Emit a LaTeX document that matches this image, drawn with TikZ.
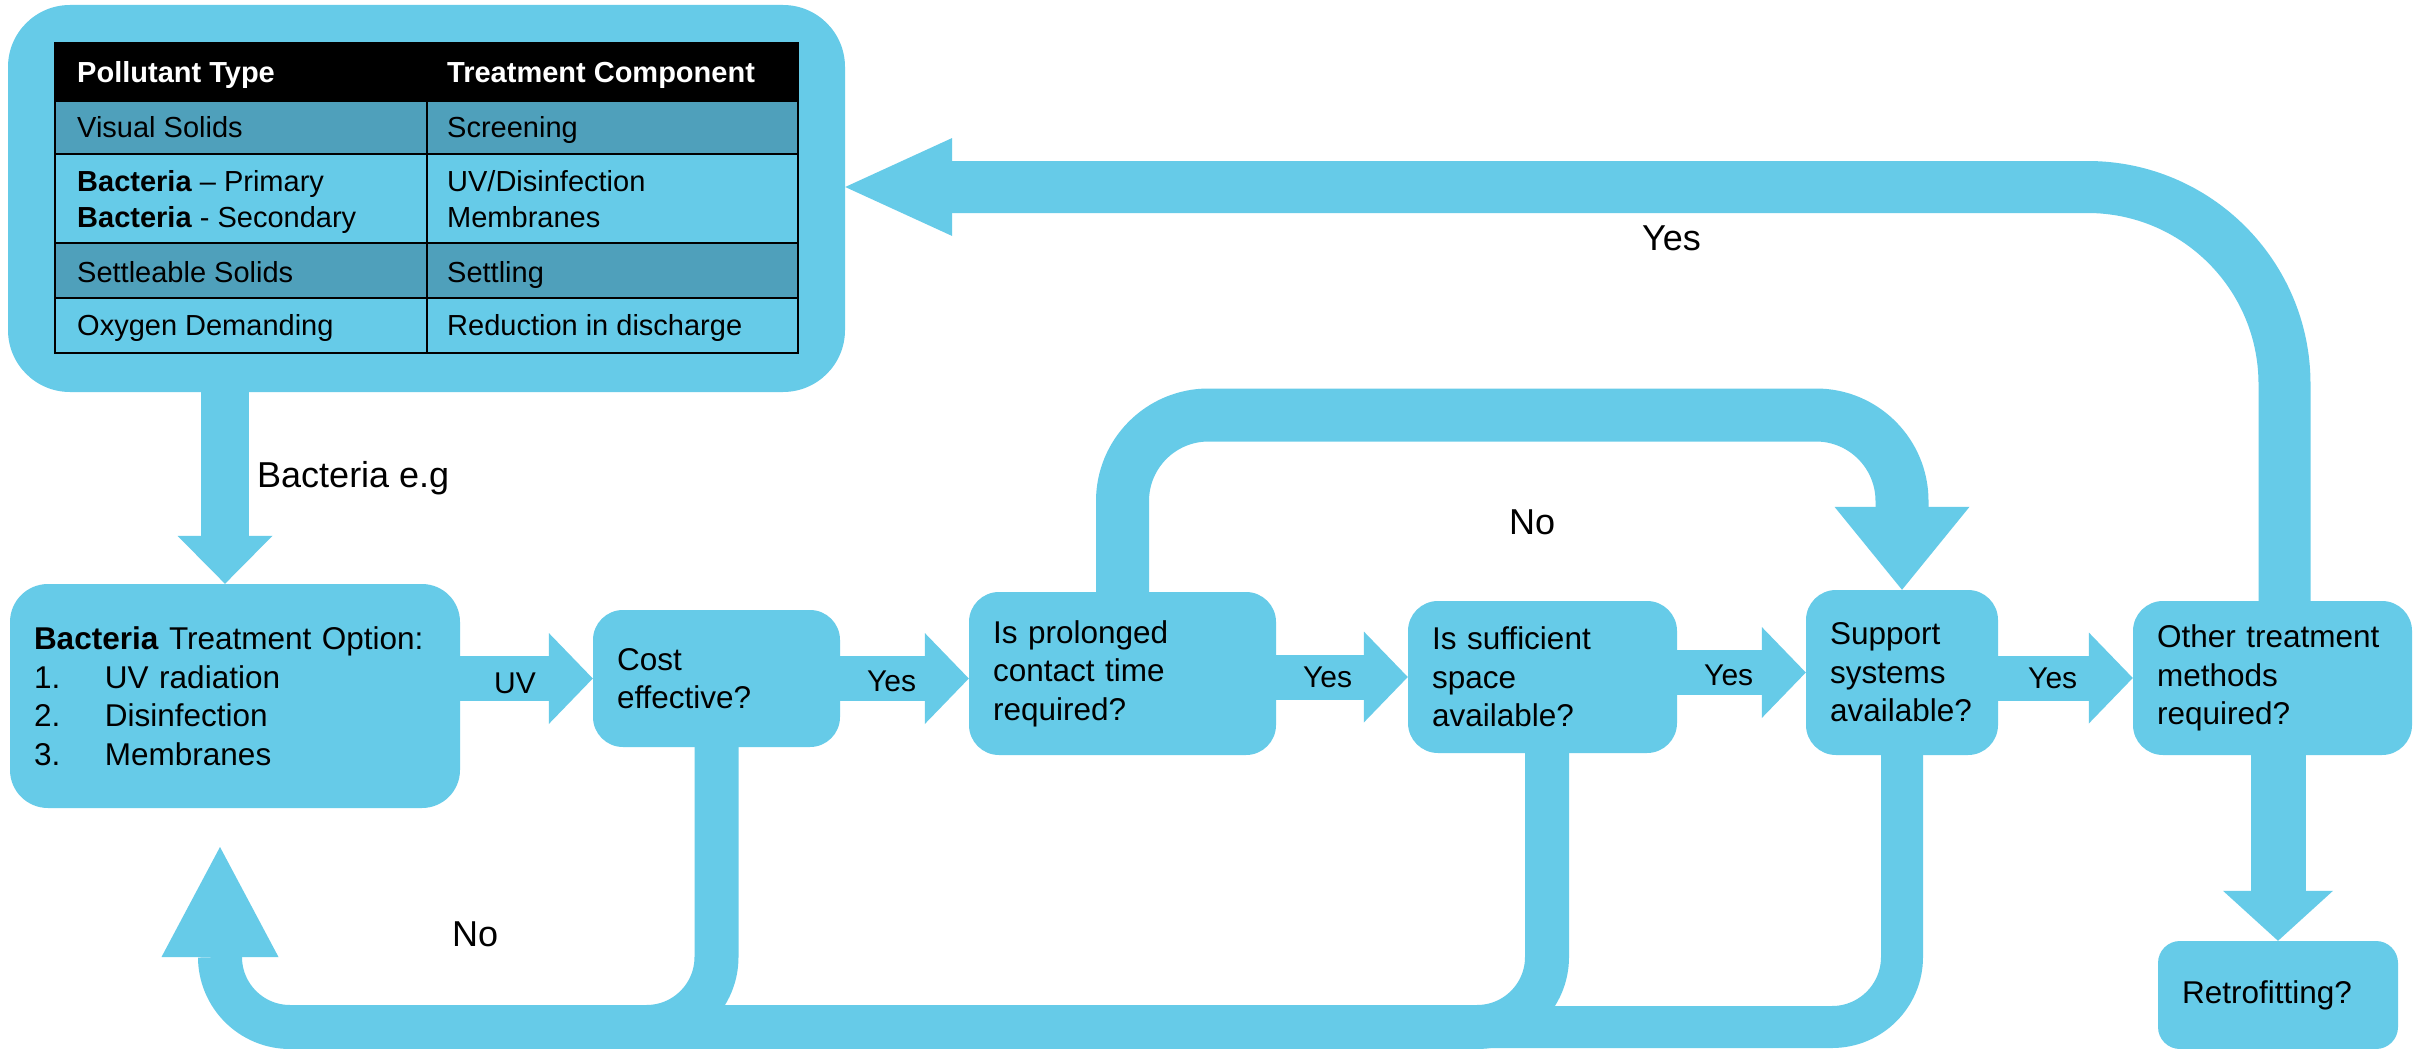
\documentclass[tikz,border=0pt]{standalone}
\usepackage{fontspec}
\setmainfont{Liberation Sans}
\usetikzlibrary{arrows.meta}

\definecolor{flowblue}{RGB}{102,203,232}
\definecolor{rowdark}{RGB}{79,160,187}

\newcommand{\boxfont}{\fontsize{31.5pt}{38.5pt}\selectfont}
\newcommand{\tabfont}{\fontsize{29pt}{36pt}\selectfont}
\newcommand{\arrfont}{\fontsize{30pt}{36pt}\selectfont}
\newcommand{\labfont}{\fontsize{36pt}{42pt}\selectfont}

\tikzset{
    flowbox/.style={fill=flowblue, rounded corners=30pt, inner xsep=24pt, inner ysep=0pt, align=left, font=\boxfont},
    tableline/.style={draw=black, line width=2.5pt},
    celltext/.style={anchor=base west, inner sep=0pt, font=\tabfont},
    band/.style={draw=flowblue, line width=44pt},
    hflow/.style={band, line width=45pt, -{Triangle[length=44pt, width=91pt, line width=0pt]}},
    arrowlabel/.style={anchor=base west, inner sep=0pt, font=\arrfont},
    looplabel/.style={anchor=base west, inner sep=0pt, font=\labfont},
}

\begin{document}
\begin{tikzpicture}[x=1pt, y=-1pt]
    % Canvas
    \useasboundingbox (0,0) rectangle (2420,1049);
    \fill[white] (0,0) rectangle (2420,1049);

    % Pollutant table
    \node[fill=flowblue, rounded corners=62pt, minimum width=837pt, minimum height=387pt, inner sep=0pt] (tablebox) at (426.5,198.5) {};
    \fill[black] (55,43) rectangle (798,101);
    \fill[rowdark] (55,101) rectangle (798,154);
    \fill[rowdark] (55,243) rectangle (798,298);
    \foreach \y in {101,154,243,298}
        \draw[tableline] (55,\y) -- (798,\y);
    \draw[tableline] (427,43) -- (427,353);
    \draw[tableline] (55,43) rectangle (798,353);

    % Table text
    \node[celltext, text=white, font=\tabfont\bfseries] (pollhead) at (77,82) {Pollutant Type};
    \node[celltext, text=white, font=\tabfont\bfseries] (treathead) at (447,82) {Treatment Component};
    \node[celltext] (visual) at (77,137) {Visual Solids};
    \node[celltext] (screen) at (447,137) {Screening};
    \node[celltext] (bactprim) at (77,191) {\textbf{Bacteria} – Primary};
    \node[celltext] (bactsec) at (77,227) {\textbf{Bacteria} - Secondary};
    \node[celltext] (uvdis) at (447,191) {UV/Disinfection};
    \node[celltext] (membr) at (447,227) {Membranes};
    \node[celltext] (settleable) at (77,282) {Settleable Solids};
    \node[celltext] (settling) at (447,282) {Settling};
    \node[celltext] (oxygen) at (77,335) {Oxygen Demanding};
    \node[celltext] (reduction) at (447,335) {Reduction in discharge};

    % Decision boxes
    \node[flowbox, rounded corners=38pt, text width=402pt, minimum height=224pt] (option) at (235,696)
        {\textbf{Bacteria} Treatment Option:\\
         \makebox[71pt][l]{1.}UV radiation\\
         \makebox[71pt][l]{2.}Disinfection\\
         \makebox[71pt][l]{3.}Membranes};
    \node[flowbox, text width=199pt, minimum height=137pt] (cost) at (716.5,678.5) {Cost\\effective?};
    \node[flowbox, text width=259pt, minimum height=163pt] (prolonged) at (1122.5,673.5) {Is prolonged\\contact time\\required?};
    \node[flowbox, text width=221pt, minimum height=152pt] (sufficient) at (1542.5,677) {Is sufficient\\space\\available?};
    \node[flowbox, text width=144pt, minimum height=165pt] (support) at (1902,672.5) {Support\\systems\\available?};
    \node[flowbox, text width=231pt, minimum height=154pt] (other) at (2272.5,678) {Other treatment\\methods\\required?};
    \node[flowbox, rounded corners=22pt, text width=192pt, minimum height=108pt] (retro) at (2278,995) {Retrofitting?};

    % Loop points
    \coordinate (notop) at (1500,415);
    \coordinate (nobase) at (220,1027);
    \coordinate (notip) at (220,847);

    % Main flow
    \draw[band, line width=48pt, -{Triangle[length=48pt, width=95pt, line width=0pt]}]
        ([xshift=-10pt]option.north |- tablebox.south) -- ([xshift=-10pt]option.north);
    \draw[hflow] (option.east |- cost.west) -- (cost.west);
    \draw[hflow] (cost.east) -- (cost.east -| prolonged.west);
    \draw[hflow] (prolonged.east |- sufficient.west) -- (sufficient.west);
    \draw[hflow] (sufficient.east |- support.west) -- (support.west);
    \draw[hflow] (support.east |- other.west) -- (other.west);
    \draw[band, line width=55pt, -{Triangle[length=50pt, width=110pt, line width=0pt]}]
        (retro.north |- other.south) -- (retro.north);

    % No loops along the bottom
    \draw[band, line width=42pt, rounded corners=70pt]
        (support.south) -- (support.south |- nobase) -- (cost.south |- nobase);
    \draw[band, rounded corners=70pt]
        ([xshift=4.5pt]sufficient.south) -- ([xshift=4.5pt]sufficient.south |- nobase) -- (option.east |- nobase);
    \draw[band, rounded corners=70pt, -{Triangle[length=110pt, width=117pt, line width=0pt]}]
        (cost.south) -- (cost.south |- nobase) -- (nobase) -- (notip);

    % No loop over the top
    \draw[band, line width=53pt, rounded corners=86pt, -{Triangle[length=83pt, width=135pt, line width=0pt]}]
        (prolonged.north) -- (prolonged.north |- notop) -- (support.north |- notop) -- (support.north);

    % Yes loop back to the table
    \draw[band, line width=52pt, rounded corners=197pt, -{Triangle[length=107pt, width=98pt, line width=0pt]}]
        ([xshift=12pt]other.north) |- ([yshift=11.5pt]tablebox.east);

    % Labels
    \node[looplabel] (bactlabel) at (257,487) {Bacteria e.g};
    \node[looplabel] (yestop) at (1642,250) {Yes};
    \node[looplabel] (nomid) at (1509,534) {No};
    \node[looplabel] (nobottom) at (452,946) {No};
    \node[arrowlabel] (uvlabel) at (494,693) {UV};
    \node[arrowlabel] (yescost) at (867,691) {Yes};
    \node[arrowlabel] (yesprol) at (1303,687) {Yes};
    \node[arrowlabel] (yessuff) at (1704,685) {Yes};
    \node[arrowlabel] (yessupp) at (2028,688) {Yes};
\end{tikzpicture}
\end{document}
